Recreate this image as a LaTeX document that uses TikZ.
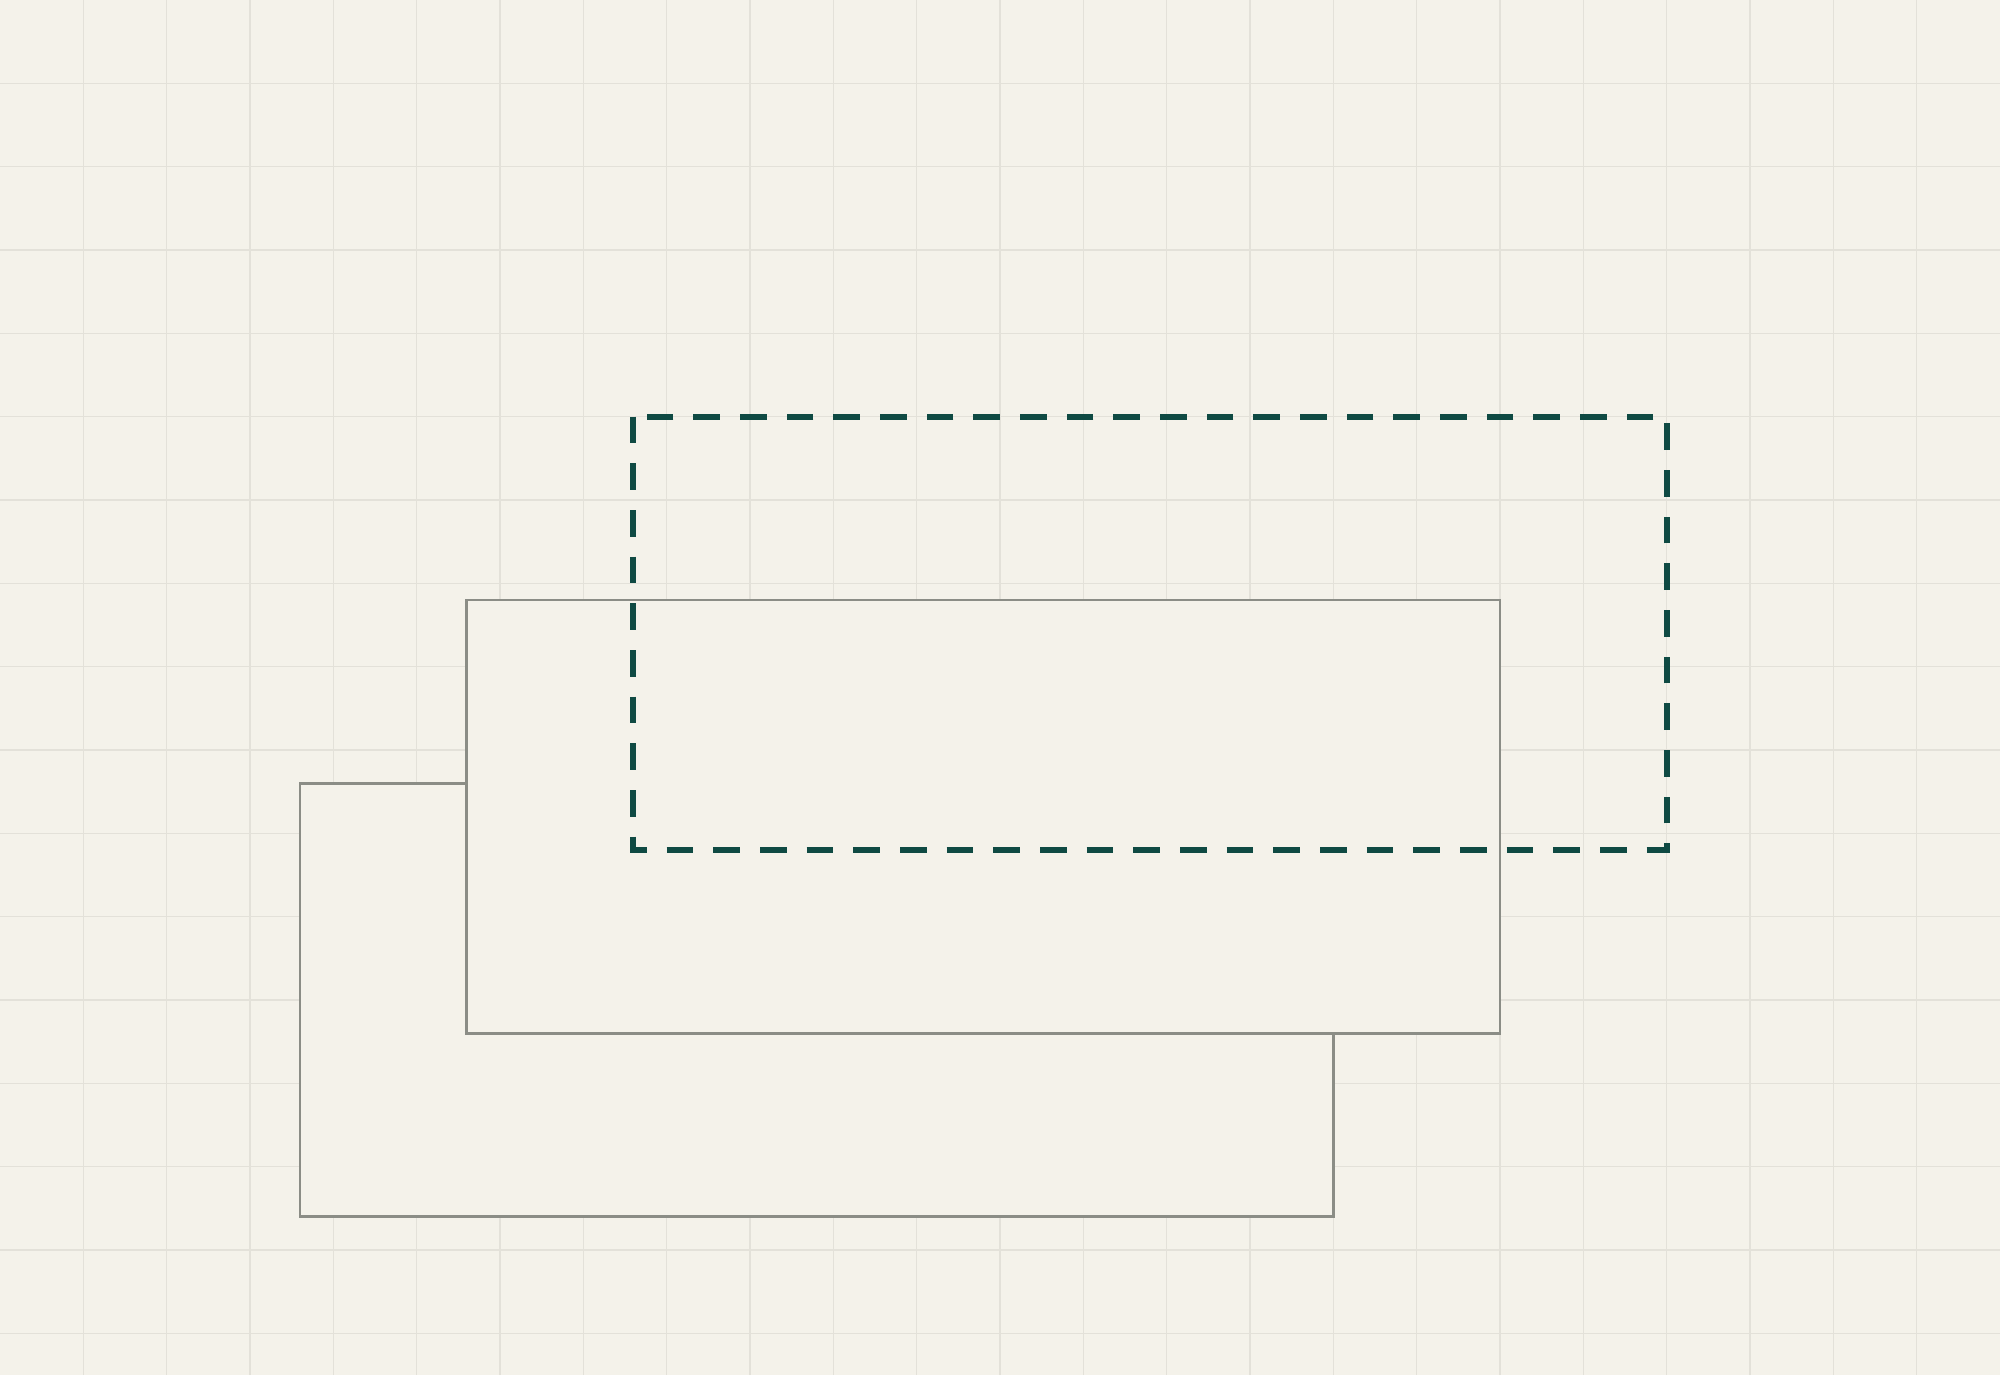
\documentclass[tikz,border=0pt]{standalone}
\usepackage{tikz}
\usepackage{color}

\definecolor{paper}{HTML}{F4F2EA}
\definecolor{gridgray}{HTML}{E3E1D9}
\definecolor{cardgray}{HTML}{8B8D86}
\definecolor{ghostteal}{HTML}{0F4A43}

\tikzset{
  gridline/.style={gridgray,line width=0.45pt},
  card/.style={draw=cardgray,fill=paper,line width=0.9pt,minimum width=12.4cm,minimum height=5.2cm,inner sep=0pt,outer sep=0pt},
  ghost/.style={ghostteal,line width=2pt,dash pattern=on 0.32cm off 0.24cm}
}

\begin{document}
\begin{tikzpicture}
% Zemin ve kareli kagit
\fill[paper] (0,0) rectangle (24,16.5);
\useasboundingbox (0,0) rectangle (24,16.5);
\foreach \x in {1,...,23} \draw[gridline] (\x,0) -- (\x,16.5);
\foreach \y in {0.5,1.5,...,15.5} \draw[gridline] (0,\y) -- (24,\y);

% Arka ve on kart
\node[card] (back) at (9.8,4.5) {};
\node[card] (front) at (11.8,6.7) {};

% Kesikli hayalet kart
\draw[ghost] (7.6,11.5) rectangle (20,6.3);

\end{tikzpicture}
\end{document}
